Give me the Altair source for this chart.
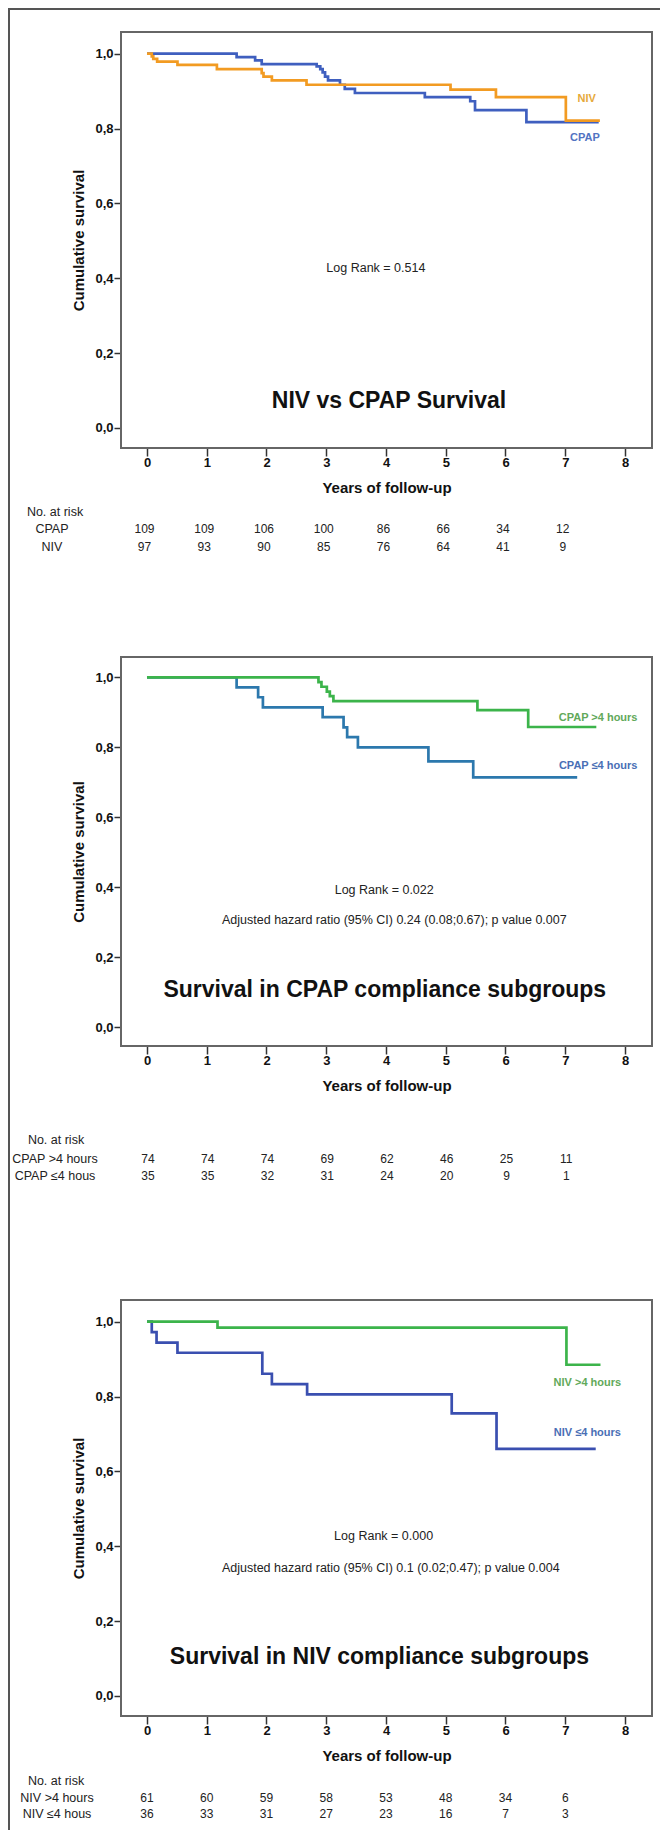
import altair as alt
import pandas as pd

FONT = "Liberation Sans, Arial, Helvetica, sans-serif"

YEARS = list(range(9))
Y_TICKS = [0.0, 0.2, 0.4, 0.6, 0.8, 1.0]
RISK_YEARS = [0, 1, 2, 3, 4, 5, 6, 7]

# ---------- Panel 1: NIV vs CPAP ----------
p1_cpap_t = [0, 1.50, 1.81, 1.92, 2.84, 2.90, 2.94, 2.98, 3.03, 3.23, 3.31, 3.48, 4.65, 5.41, 5.49, 6.35, 7.56]
p1_cpap_s = [1.0, 0.991, 0.982, 0.972, 0.966, 0.959, 0.950, 0.939, 0.929, 0.917, 0.906, 0.895, 0.884, 0.873, 0.849, 0.817, 0.817]
p1_niv_t = [0, 0.08, 0.105, 0.17, 0.51, 1.17, 1.92, 1.95, 2.09, 2.67, 5.08, 5.84, 7.01, 7.58]
p1_niv_s = [1.0, 0.993, 0.986, 0.979, 0.970, 0.959, 0.948, 0.939, 0.929, 0.917, 0.904, 0.884, 0.821, 0.821]
p1_risk_labels = ["CPAP", "NIV"]
p1_risk_cpap = [109, 109, 106, 100, 86, 66, 34, 12]
p1_risk_niv = [97, 93, 90, 85, 76, 64, 41, 9]

# ---------- Panel 2: CPAP compliance ----------
p2_hi_t = [0, 2.87, 2.92, 3.01, 3.06, 3.12, 5.53, 6.38, 7.52]
p2_hi_s = [1.0, 0.986, 0.973, 0.959, 0.946, 0.932, 0.906, 0.858, 0.858]
p2_lo_t = [0, 1.50, 1.86, 1.94, 2.94, 3.29, 3.35, 3.53, 4.71, 5.46, 7.20]
p2_lo_s = [1.0, 0.971, 0.943, 0.914, 0.886, 0.857, 0.829, 0.800, 0.760, 0.714, 0.714]
p2_risk_labels = ["CPAP >4 hours", "CPAP \u22644 hous"]
p2_risk_hi = [74, 74, 74, 69, 62, 46, 25, 11]
p2_risk_lo = [35, 35, 32, 31, 24, 20, 9, 1]

# ---------- Panel 3: NIV compliance ----------
p3_hi_t = [0, 1.18, 7.02, 7.59]
p3_hi_s = [1.0, 0.984, 0.885, 0.885]
p3_lo_t = [0, 0.08, 0.16, 0.51, 1.93, 2.09, 2.68, 5.10, 5.85, 7.51]
p3_lo_s = [1.0, 0.972, 0.944, 0.917, 0.861, 0.833, 0.806, 0.755, 0.660, 0.660]
p3_risk_labels = ["NIV >4 hours", "NIV \u22644 hous"]
p3_risk_hi = [61, 60, 59, 58, 53, 48, 34, 6]
p3_risk_lo = [36, 33, 31, 27, 23, 16, 7, 3]

# ---------- layout ----------
W = 531                    # plot width of each panel
TOPS = [0, 625, 1268]      # top of each panel frame
HS = [416, 389, 416]       # plot height of each panel
HT = TOPS[2] + HS[2]       # overall chart height (bottom of last frame)
XDOM = [-0.435, 8.452]
YDOM = [-0.0535, 1.058]
ONE = pd.DataFrame({"k": [0]})


def axes(top, h):
    xaxis = alt.Axis(values=YEARS, title="Years of follow-up", orient="bottom",
                     offset=-(HT - (top + h)), domain=False, grid=False,
                     tickSize=8, tickWidth=1.5, tickColor="#333", labelFont=FONT,
                     labelFontSize=13, labelFontWeight="bold", labelColor="#111",
                     labelPadding=0, labelFlush=False, titleFont=FONT, titleFontSize=15,
                     titleFontWeight="bold", titleColor="#111", titleY=39,
                     titleBaseline="middle")
    yaxis = alt.Axis(values=Y_TICKS, orient="left",
                     labelExpr="replace(format(datum.value, '.1f'), '.', ',')",
                     title="Cumulative survival", domain=False, grid=False, tickSize=7,
                     tickWidth=1.5, tickColor="#333", labelPadding=1, labelFont=FONT,
                     labelFontSize=13, labelFontWeight="bold", labelColor="#111",
                     labelFlush=False, labelOverlap=False, titleFont=FONT, titleFontSize=15,
                     titleFontWeight="bold", titleColor="#111", titleX=-43,
                     titleY=top + h / 2, titleAngle=270, titleAlign="center",
                     titleBaseline="middle")
    return xaxis, yaxis


def panel(idx, curves, labels, notes, title, risk_labels, risk_rows, risk_dx, risk_ys,
          head_x, lab_x):
    top, h = TOPS[idx], HS[idx]
    xs = alt.Scale(domain=XDOM, nice=False, zero=False)
    ys = alt.Scale(domain=YDOM, range=[top + h, top], nice=False, zero=False)
    xaxis, yaxis = axes(top, h)

    def X(f):
        return alt.X(f, scale=xs, axis=xaxis)

    def Y(f):
        return alt.Y(f, scale=ys, axis=yaxis)

    layers = []
    fr = pd.DataFrame({"x1": [XDOM[0]], "x2": [XDOM[1]], "y1": [YDOM[0]], "y2": [YDOM[1]]})
    layers.append(alt.Chart(fr).mark_rect(filled=False, stroke="#666", strokeWidth=2).encode(
        x=X("x1:Q"), x2="x2:Q", y=Y("y1:Q"), y2="y2:Q"))
    for (t, s, color) in curves:
        df = pd.DataFrame({"t": t, "s": s})
        layers.append(alt.Chart(df).mark_line(interpolate="step-after", strokeWidth=2.7,
                                              color=color).encode(x=X("t:Q"), y=Y("s:Q")))
    for (items, size, weight) in [(labels, 11, "bold"), (notes, 12.5, "normal"),
                                  ([title], 23, "bold")]:
        for (txt, xv, yv, col) in items:
            df = pd.DataFrame({"t": [xv], "s": [yv], "label": [txt]})
            layers.append(alt.Chart(df).mark_text(font=FONT, fontSize=size, fontWeight=weight,
                                                  color=col, align="center",
                                                  baseline="middle").encode(
                x=X("t:Q"), y=Y("s:Q"), text="label:N"))
    base = top + h
    layers.append(alt.Chart(ONE).mark_text(font=FONT, fontSize=12.5, color="#222",
                                           align="center", baseline="middle").encode(
        x=alt.value(head_x), y=alt.value(base + risk_ys[0]), text=alt.value("No. at risk")))
    for i, (lab, vals) in enumerate(zip(risk_labels, risk_rows)):
        yy = base + risk_ys[i + 1]
        layers.append(alt.Chart(ONE).mark_text(font=FONT, fontSize=12.5, color="#222",
                                               align="center", baseline="middle").encode(
            x=alt.value(lab_x), y=alt.value(yy), text=alt.value(lab)))
        df = pd.DataFrame({"t": RISK_YEARS, "n": [str(v) for v in vals]})
        layers.append(alt.Chart(df).mark_text(font=FONT, fontSize=12, color="#222",
                                              align="center", baseline="middle",
                                              dx=risk_dx).encode(
            x=X("t:Q"), y=alt.value(yy), text="n:N"))
    return alt.layer(*layers)


p1 = panel(0,
           [(p1_cpap_t, p1_cpap_s, "#3f5fbf"), (p1_niv_t, p1_niv_s, "#f29b22")],
           [("NIV", 7.36, 0.879, "#e6a93a"), ("CPAP", 7.33, 0.775, "#5273c2")],
           [("Log Rank = 0.514", 3.83, 0.427, "#222")],
           ("NIV vs CPAP Survival", 4.05, 0.071, "#111"),
           p1_risk_labels, [p1_risk_cpap, p1_risk_niv], -2.5, [63.5, 81, 99], -66, -69)

p2 = panel(1,
           [(p2_lo_t, p2_lo_s, "#2c78ad"), (p2_hi_t, p2_hi_s, "#3cb44b")],
           [("CPAP >4 hours", 7.55, 0.885, "#62a95a"), ("CPAP \u22644 hours", 7.55, 0.747, "#4a6fb5")],
           [("Log Rank = 0.022", 3.97, 0.393, "#222"),
            ("Adjusted hazard ratio (95% CI) 0.24 (0.08;0.67); p value 0.007", 4.14, 0.306, "#222")],
           ("Survival in CPAP compliance subgroups", 3.98, 0.107, "#111"),
           p2_risk_labels, [p2_risk_hi, p2_risk_lo], 1, [93.5, 113, 130], -65, -66)

p3 = panel(2,
           [(p3_lo_t, p3_lo_s, "#3a4fb0"), (p3_hi_t, p3_hi_s, "#3cb44b")],
           [("NIV >4 hours", 7.37, 0.835, "#62a95a"), ("NIV \u22644 hours", 7.37, 0.702, "#4a6fb5")],
           [("Log Rank = 0.000", 3.96, 0.427, "#222"),
            ("Adjusted hazard ratio (95% CI) 0.1 (0.02;0.47); p value 0.004", 4.08, 0.341, "#222")],
           ("Survival in NIV compliance subgroups", 3.89, 0.104, "#111"),
           p3_risk_labels, [p3_risk_hi, p3_risk_lo], 0, [65, 81.5, 97.5], -65, -64)

# outer figure border (left and top edges)
border_left = alt.Chart(ONE).mark_rect(color="#555").encode(
    x=alt.value(-113), x2=alt.value(-111), y=alt.value(-24), y2=alt.value(1798))
border_top = alt.Chart(ONE).mark_rect(color="#555").encode(
    x=alt.value(-113), x2=alt.value(539), y=alt.value(-24), y2=alt.value(-22))

chart = alt.layer(border_left, border_top, p1, p2, p3).resolve_scale(
    x="independent", y="independent"
).properties(width=W, height=HT, padding=0).configure_view(strokeWidth=0)

chart.save("out.html", embed_options={"renderer": "svg", "actions": False})
